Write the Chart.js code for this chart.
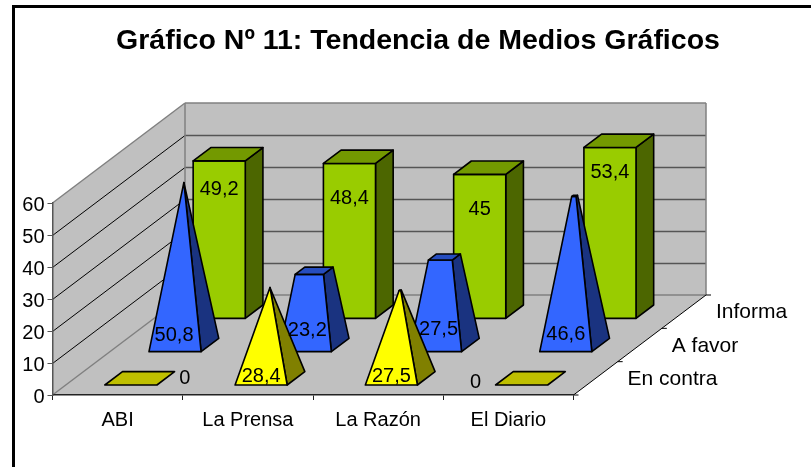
<!DOCTYPE html>
<html><head><meta charset="utf-8">
<style>html,body{margin:0;padding:0;background:#fff}#w{width:811px;height:467px}</style>
<script src="https://cdn.jsdelivr.net/npm/chart.js@4"></script>
</head><body><div id="w"><canvas id="c"></canvas></div>
<script>
const categories = ['ABI','La Prensa','La Razón','El Diario'];
const titleText = 'Gráfico Nº 11: Tendencia de Medios Gráficos';
const enContra = [0, 28.4, 27.5, 0];
const aFavor = [50.8, 23.2, 27.5, 46.6];
const informa = [49.2, 48.4, 45, 53.4];
const yTicks = [0,10,20,30,40,50,60];

const FONT = '"Liberation Sans", Arial, sans-serif';
const DEPTH_DX = 132.5, DEPTH_DY = 100, ROWS = 3, SIZE_FRAC = 0.4;
const rowDx = DEPTH_DX/ROWS, rowDy = DEPTH_DY/ROWS;

// Per-series style; row = position along the depth axis.
const looks = [
 {name:'En contra', row:0, shape:'pyramid', front:'#FFFF00', side:'#808000', top:'#BFBF00', values:enContra,
  label:(v,i)=> v===0 ? (i===0?{dx:54,from:'base',dy:-7}:{dx:-46,from:'base',dy:-3}) : {dx:0,from:'base',dy:-9}},
 {name:'A favor', row:1, shape:'pyramid', front:'#3366FF', side:'#1A3380', top:'#264DBF', values:aFavor,
  label:(v,i)=> ({dx:[-1,2,3,0][i],from:'base',dy:[-16,-21,-22,-17][i]})},
 {name:'Informa', row:2, shape:'box', front:'#99CC00', side:'#4C6600', top:'#739900', values:informa,
  label:(v,i)=> ({dx:0,from:'top',dy:[29,35,35,25][i]})}
];

function poly(ctx, pts, fill){
  ctx.beginPath();
  pts.forEach((p,i)=> i?ctx.lineTo(p[0],p[1]):ctx.moveTo(p[0],p[1]));
  ctx.closePath();
  ctx.fillStyle=fill; ctx.fill(); ctx.stroke();
}
function seg(ctx,a,b){ctx.beginPath();ctx.moveTo(a[0],a[1]);ctx.lineTo(b[0],b[1]);ctx.stroke();}

const scene = {
  id:'scene',
  afterLayout(chart){ chart.titleBlock.left=0; chart.titleBlock.right=836; },
  beforeDraw(chart){
    const {ctx,scales:{x,y}}=chart;
    const L=x.left,R=x.right,B=y.getPixelForValue(0),T=y.getPixelForValue(60);
    ctx.save();
    // outer frame
    ctx.strokeStyle='#000';ctx.lineWidth=3;
    ctx.beginPath();ctx.moveTo(13.5,chart.height);ctx.lineTo(13.5,6.5);ctx.lineTo(chart.width,6.5);ctx.stroke();
    // walls and floor
    ctx.fillStyle='#C0C0C0';
    ctx.beginPath();ctx.moveTo(L,B);ctx.lineTo(L,T);ctx.lineTo(L+DEPTH_DX,T-DEPTH_DY);ctx.lineTo(R+DEPTH_DX,T-DEPTH_DY);
    ctx.lineTo(R+DEPTH_DX,B-DEPTH_DY);ctx.lineTo(R,B);ctx.closePath();ctx.fill();
    // gridlines
    yTicks.forEach(t=>{
      if(t===0||t===60) return;
      const py=Math.round(y.getPixelForValue(t))+.5;
      ctx.lineWidth=1;ctx.strokeStyle='#000';
      seg(ctx,[L,py],[L+DEPTH_DX,py-DEPTH_DY]);
      ctx.lineWidth=1.5;ctx.strokeStyle='#555';
      seg(ctx,[L+DEPTH_DX,py-DEPTH_DY],[R+DEPTH_DX,py-DEPTH_DY]);
    });
    // wall edges
    ctx.strokeStyle='#808080';ctx.lineWidth=1.5;
    seg(ctx,[L,T],[L+DEPTH_DX,T-DEPTH_DY]);
    seg(ctx,[L+DEPTH_DX,T-DEPTH_DY],[R+DEPTH_DX,T-DEPTH_DY]);
    seg(ctx,[R+DEPTH_DX,T-DEPTH_DY],[R+DEPTH_DX,B-DEPTH_DY]);
    seg(ctx,[L+DEPTH_DX,T-DEPTH_DY],[L+DEPTH_DX,B-DEPTH_DY]);
    seg(ctx,[L,B],[L+DEPTH_DX,B-DEPTH_DY]);
    seg(ctx,[L+DEPTH_DX,B-DEPTH_DY],[R+DEPTH_DX,B-DEPTH_DY]);
    // depth axis
    ctx.strokeStyle='#000';ctx.lineWidth=1;
    seg(ctx,[R,B],[R+DEPTH_DX,B-DEPTH_DY]);
    for(let i=0;i<=ROWS;i++){
      const px=R+i*rowDx,py=B-i*rowDy;
      seg(ctx,[px,py],[px+5,py]);
    }
    ctx.restore();
  },
  afterDatasetsDraw(chart){
    const {ctx,scales:{x,y}}=chart;
    const catW=x.width/categories.length, halfW=catW*SIZE_FRAC/2, halfD=SIZE_FRAC/2;
    ctx.save();
    ctx.strokeStyle='#000';ctx.lineWidth=1.6;ctx.lineJoin='round';
    // back rows first so nearer marks overlap them
    const order=looks.slice().sort((a,b)=>b.row-a.row);
    order.forEach(s=>{
      const maxV=Math.max(...s.values);
      s.values.forEach((v,i)=>{
        const cx=x.getPixelForValue(i), d0=s.row+.5;
        const t=s.shape==='pyramid'?1-v/maxV:1;
        const P=(u,d,h)=>[cx+u+(d0+d)*rowDx, y.getPixelForValue(h)-(d0+d)*rowDy];
        const tw=halfW*t, td=halfD*t;
        if(v>0){
          poly(ctx,[P(halfW,-halfD,0),P(halfW,halfD,0),P(tw,td,v),P(tw,-td,v)],s.side);
          poly(ctx,[P(-halfW,-halfD,0),P(halfW,-halfD,0),P(tw,-td,v),P(-tw,-td,v)],s.front);
        }
        if(t>0) poly(ctx,[P(-tw,-td,v),P(tw,-td,v),P(tw,td,v),P(-tw,td,v)],s.top);
      });
    });
    // value labels
    ctx.fillStyle='#000';ctx.font='20px '+FONT;ctx.textAlign='center';ctx.textBaseline='middle';
    looks.forEach(s=>{
      s.values.forEach((v,i)=>{
        const d=s.row+.5-halfD;
        const n=s.label(v,i);
        const px=x.getPixelForValue(i)+d*rowDx+n.dx;
        const py=(n.from==='top'?y.getPixelForValue(v):y.getPixelForValue(0))-d*rowDy+n.dy;
        ctx.fillText(String(v).replace('.',','),px,py);
      });
    });
    // depth-axis labels
    ctx.textAlign='left';ctx.font='21px '+FONT;
    looks.forEach(s=>{
      const d=s.row+.5;
      ctx.fillText(s.name,x.right+d*rowDx+32,y.getPixelForValue(0)-d*rowDy+1);
    });
    ctx.restore();
  }
};

new Chart(document.getElementById('c'),{
  type:'bar',
  data:{labels:categories,datasets:looks.map(s=>({label:s.name,data:s.values,backgroundColor:'transparent',borderWidth:0}))},
  options:{
    responsive:true,maintainAspectRatio:false,animation:false,
    layout:{padding:{left:0,right:237.5,top:0,bottom:22}},
    plugins:{
      legend:{display:false},tooltip:{enabled:false},
      title:{display:true,text:titleText,color:'#000',font:{family:FONT,size:28.5,weight:'bold',lineHeight:1},padding:{top:27,bottom:147.5}}
    },
    scales:{
      x:{offset:true,afterFit:s=>{s.height=50;},
        border:{color:'#222',width:1.5},
        grid:{drawOnChartArea:false,drawTicks:true,tickLength:5,color:'#222',offset:true},
        ticks:{color:'#000',font:{family:FONT,size:20},padding:8,maxRotation:0}},
      y:{min:0,max:60,afterFit:s=>{s.width=52.5;},afterBuildTicks:s=>{s.ticks=yTicks.map(v=>({value:v}));},
        border:{color:'#555',width:1.5},
        grid:{drawOnChartArea:false,drawTicks:true,tickLength:5,color:'#555'},
        ticks:{color:'#000',font:{family:FONT,size:20},padding:3,labelOffset:2}}
    }
  },
  plugins:[scene]
});
</script></body></html>
